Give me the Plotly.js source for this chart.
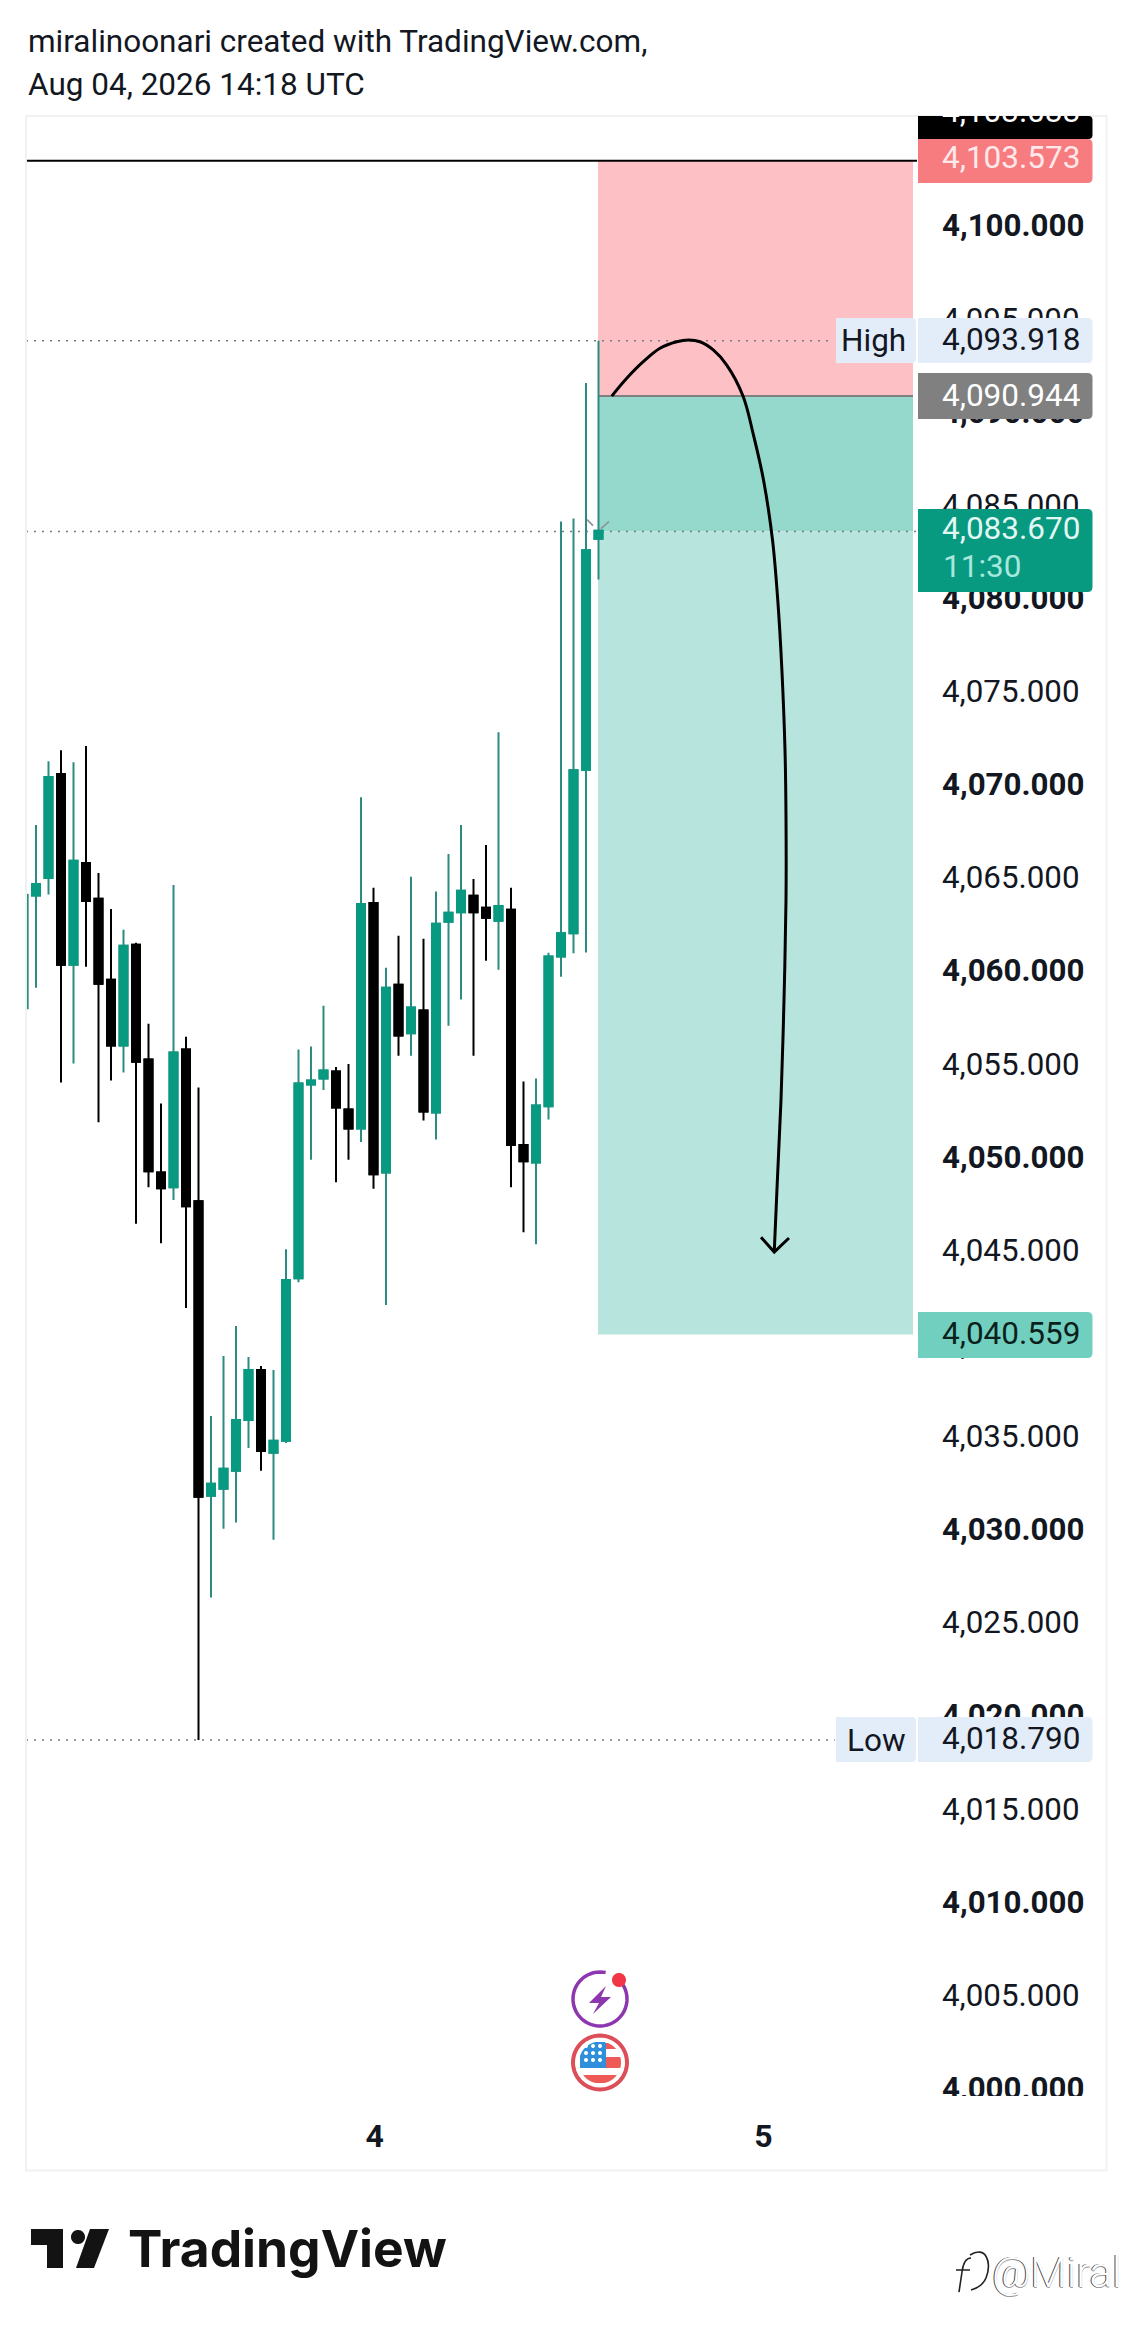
<!DOCTYPE html>
<html>
<head>
<meta charset="utf-8">
<script src="https://cdn.plot.ly/plotly-3.0.1.min.js"></script>
<style>html,body{margin:0;padding:0;background:#fff}#chart{width:1131px;height:2328px}</style>
</head>
<body>
<div id="chart"></div>
<script>
// ---- chart data ----
const barIndex = [0,1,2,3,4,5,6,7,8,9,10,11,12,13,14,15,16,17,18,19,20,21,22,23,24,25,26,27,28,29,30,31,32,33,34,35,36,37,38,39,40,41,42,43,44,45];
const opens = [4064.13,4065.07,4070.65,4060.41,4065.88,4063.95,4059.61,4056.07,4061.48,4055.32,4049.26,4048.46,4055.86,4047.71,4031.90,4032.28,4033.24,4035.97,4038.65,4034.21,4034.85,4043.58,4053.98,4054.30,4054.68,4052.64,4051.62,4063.73,4049.26,4059.34,4056.74,4057.95,4052.48,4062.72,4063.23,4064.11,4063.47,4062.77,4063.36,4050.73,4049.80,4052.82,4060.86,4062.10,4070.88,4083.29];
const highs = [4067.91,4071.34,4071.93,4071.29,4072.15,4065.34,4063.41,4062.29,4061.59,4057.25,4052.96,4064.70,4056.55,4053.82,4036.19,4039.41,4041.01,4039.35,4038.87,4038.65,4045.14,4055.86,4056.02,4058.21,4054.92,4055.08,4069.41,4064.54,4060.25,4061.97,4065.13,4061.81,4064.35,4066.36,4067.91,4065.02,4066.84,4072.90,4064.54,4054.14,4054.30,4061.06,4084.21,4084.37,4091.65,4093.918];
const lows = [4059.18,4064.18,4054.09,4055.11,4060.31,4051.95,4054.20,4054.62,4046.51,4048.46,4045.46,4047.78,4041.98,4018.79,4026.44,4030.13,4030.46,4034.47,4033.24,4029.54,4034.74,4043.37,4049.94,4053.69,4048.73,4049.94,4050.90,4048.38,4042.14,4055.53,4055.53,4052.05,4051.03,4057.14,4058.54,4055.53,4060.63,4060.14,4048.46,4046.05,4045.41,4052.10,4059.77,4061.03,4061.07,4081.10];
const closes = [4064.75,4070.49,4060.41,4065.99,4063.84,4059.39,4056.07,4061.43,4055.21,4049.33,4048.41,4055.70,4047.44,4031.85,4032.54,4033.35,4035.97,4038.65,4034.31,4034.85,4043.48,4054.03,4054.20,4054.73,4052.75,4051.62,4063.68,4049.17,4059.18,4056.61,4058.11,4052.53,4062.61,4063.20,4064.38,4063.23,4062.93,4063.57,4050.73,4049.86,4052.86,4060.86,4062.10,4070.86,4082.67,4083.72];
const edgeWickX = [-0.667,-0.667];
const edgeWickY = [4058.02,4064.22];
const curveX = [46.06,47.26,48.58,49.92,51.26,52.18,53.12,54.18,55.26,56.56,57.36,58.2,58.92,59.34,59.66,59.92,60.0,60.0,59.84,59.6,59.3,59.06];
const curveY = [4090.944,4091.90,4092.79,4093.51,4093.86,4093.95,4093.86,4093.42,4092.61,4090.95,4088.96,4086.44,4083.22,4080.00,4076.40,4071.94,4068.35,4063.89,4058.52,4053.15,4048.70,4044.99];
const arrowX = [58.0,59.06,60.24];
const arrowY = [4045.78,4044.99,4045.74];
const chevronLeftX = [44.08,44.56], chevronLeftY = [4084.31,4083.99];
const chevronRightX = [45.2,45.84], chevronRightY = [4083.83,4084.21];
const stopPrice = 4103.573, entryPrice = 4090.944, lastPrice = 4083.670, targetPrice = 4040.559, highPrice = 4093.918, lowPrice = 4018.790;
const boxStart = 44.96, boxEnd = 70.16;
const priceTicks = [4100,4095,4090,4085,4080,4075,4070,4065,4060,4055,4050,4045,4040,4035,4030,4025,4020,4015,4010,4005,4000];
const priceTickLabels = ['<b>4,100.000</b>','4,095.000','<b>4,090.000</b>','4,085.000','<b>4,080.000</b>','4,075.000','<b>4,070.000</b>','4,065.000','<b>4,060.000</b>','4,055.000','<b>4,050.000</b>','4,045.000','<b>4,040.000</b>','4,035.000','<b>4,030.000</b>','4,025.000','<b>4,020.000</b>','4,015.000','<b>4,010.000</b>','4,005.000','<b>4,000.000</b>'];
const dayTicks = [27.1,58.2];
const dayLabels = ['<b>4</b>','<b>5</b>'];

// ---- page geometry helpers (furniture only) ----
const W = 1131, H = 2328;
const px = x => x / W, py = y => 1 - y / H;
const P = (x, y) => px(x).toFixed(5) + ',' + py(y).toFixed(5);
function poly(points, close) {
  return 'M' + points.map(p => P(p[0], p[1])).join('L') + (close ? 'Z' : '');
}
function tagPath(x0, y0, x1, y1, r) {
  return 'M' + P(x0, y0) + 'L' + P(x1 - r, y0) + 'Q' + P(x1, y0) + ' ' + P(x1, y0 + r) +
         'L' + P(x1, y1 - r) + 'Q' + P(x1, y1) + ' ' + P(x1 - r, y1) + 'L' + P(x0, y1) + 'Z';
}
function paperShape(path, fill, lineColor, lineWidth) {
  return {type: 'path', xref: 'paper', yref: 'paper', layer: 'above', path: path,
          fillcolor: fill || 'rgba(0,0,0,0)', line: {color: lineColor || 'rgba(0,0,0,0)', width: lineWidth || 0}};
}
function arc(cx, cy, r, a0, a1) {
  const pts = [];
  const n = Math.max(8, Math.ceil(Math.abs(a1 - a0) / 6));
  for (let i = 0; i <= n; i++) {
    const a = (a0 + (a1 - a0) * i / n) * Math.PI / 180;
    pts.push([cx + r * Math.cos(a), cy + r * Math.sin(a)]);
  }
  return pts;
}
function discPart(cx, cy, r, x0, y0, x1, y1) {
  const left = [], right = [];
  for (let y = y0; y <= y1 + 0.001; y += 1) {
    const d = r * r - (y - cy) * (y - cy);
    if (d < 0) continue;
    const h = Math.sqrt(d);
    const a = Math.max(cx - h, x0), b = Math.min(cx + h, x1);
    if (b <= a) continue;
    left.push([a, y]);
    right.push([b, y]);
  }
  return poly(left.concat(right.reverse()), true);
}

const GREEN = '#089981', WICK = '#2C8B80', INK = '#131722', DOT = '#787B86';
const xLeft = -0.8, xRight = 70.48;
const TAGR = 1092.5, FLAGY = 2062.5;

const shapes = [
  // risk / reward boxes
  {type:'rect', xref:'x', yref:'y', layer:'below', x0:boxStart, x1:boxEnd, y0:entryPrice, y1:stopPrice, fillcolor:'#FDC0C4', line:{width:0}},
  {type:'rect', xref:'x', yref:'y', layer:'below', x0:boxStart, x1:boxEnd, y0:lastPrice, y1:entryPrice, fillcolor:'#94D9CC', line:{width:0}},
  {type:'rect', xref:'x', yref:'y', layer:'below', x0:boxStart, x1:boxEnd, y0:targetPrice, y1:lastPrice, fillcolor:'#B8E4DE', line:{width:0}},
  {type:'line', xref:'x', yref:'y', layer:'below', x0:boxStart, x1:boxEnd, y0:entryPrice, y1:entryPrice, line:{color:'#808080', width:2}},
  {type:'line', xref:'x', yref:'y', layer:'below', x0:xLeft, x1:xRight, y0:stopPrice, y1:stopPrice, line:{color:'#000000', width:2}},
  {type:'line', xref:'x', yref:'y', layer:'below', x0:xLeft, x1:63.68, y0:highPrice, y1:highPrice, line:{color:DOT, width:1.6, dash:'2px,6px'}},
  {type:'line', xref:'x', yref:'y', layer:'below', x0:xLeft, x1:63.9, y0:lowPrice, y1:lowPrice, line:{color:DOT, width:1.6, dash:'2px,6px'}},
  {type:'line', xref:'x', yref:'y', layer:'below', x0:xLeft, x1:xRight, y0:lastPrice, y1:lastPrice, line:{color:DOT, width:1.6, dash:'2px,6px'}},
  // panel frame
  paperShape(poly([[26,116],[1106.5,116],[1106.5,2170.5],[26,2170.5]], true), null, '#F0F1F3', 2),
  // price tags
  paperShape(tagPath(918,116,TAGR,139,4), '#000000'),
  paperShape(tagPath(918,139,TAGR,183,5), '#F77C80'),
  paperShape(tagPath(836,318,916,363,4), '#E3EDFA'),
  paperShape(tagPath(918,318,TAGR,363,5), '#E3EDFA'),
  paperShape(tagPath(918,373,TAGR,419,5), '#808080'),
  paperShape(tagPath(918,509,TAGR,592,5), GREEN),
  paperShape(tagPath(918,1312,TAGR,1358,5), '#71CFBF'),
  paperShape(tagPath(836,1717,916,1762,4), '#E3EDFA'),
  paperShape(tagPath(918,1717,TAGR,1762,5), '#E3EDFA'),
  // clip the lowest price label
  paperShape(poly([[930,2096],[1100,2096],[1100,2118],[930,2118]], true), '#FFFFFF'),
  // event icons
  paperShape(poly(arc(600,1999,27,-38,282)), null, '#8E35B0', 3.5),
  paperShape(poly(arc(619,1980,7,0,360), true), '#F23645'),
  paperShape(poly([[606,1986],[589,2003],[599,2003],[593,2014],[611,1997],[601,1997]], true), '#8E35B0'),
  paperShape(poly(arc(600,FLAGY,27,0,360), true), '#FFFFFF', '#DD4F58', 4),
  paperShape(discPart(600,FLAGY,21,606,FLAGY-21.5,622,FLAGY-13.5), '#EE5A55'),
  paperShape(discPart(600,FLAGY,21,606,FLAGY-5.5,622,FLAGY+5.5), '#EE5A55'),
  paperShape(discPart(600,FLAGY,21,580,FLAGY+12.5,622,FLAGY+21.5), '#EE5A55'),
  paperShape(discPart(600,FLAGY,21,580,FLAGY-21.5,606,FLAGY+5.5), '#2F8FDB'),
  // TradingView logo mark
  paperShape(poly([[31,2229],[63,2229],[63,2268],[47,2268],[47,2245],[31,2245]], true), '#131313'),
  paperShape(poly(arc(78,2237,7,0,360), true), '#131313'),
  paperShape(poly([[90,2229],[109,2229],[94,2268],[76,2268]], true), '#131313'),
  // watermark glyph
  paperShape('M' + P(970,2255) + 'C' + P(986,2245) + ' ' + P(992,2262) + ' ' + P(986,2278) + 'C' + P(983,2285) + ' ' + P(978,2288) + ' ' + P(971,2290), null, '#222222', 1.6),
  paperShape('M' + P(971,2258) + 'C' + P(965,2258) + ' ' + P(963,2264) + ' ' + P(962,2272) + 'L' + P(959,2292) + 'M' + P(956,2270) + 'L' + P(970,2270), null, '#222222', 1.6)
];
// flag stars
[FLAGY-16.5,FLAGY-9.5,FLAGY-2.5].forEach(y => [586,593,600].forEach(x => {
  shapes.push(paperShape(poly(arc(x,y,2,0,360), true), '#FFFFFF'));
}));

function label(text, x, y, color, anchor, extra) {
  return Object.assign({text: text, xref:'paper', yref:'paper', x: px(x), y: py(y), xanchor: anchor || 'right', yanchor:'middle',
    showarrow:false, borderpad:0, font:{family:'Roboto', size:31.5, color:color}}, extra || {});
}
const annotations = [
  label('4,103.033', 1081, 111, '#FFFFFF'),
  // white strip that cuts the top of the black tag's label at the panel edge
  {text:'&nbsp;', xref:'paper', yref:'paper', x:px(918), y:py(114.5), xanchor:'left', yanchor:'bottom', width:176, height:16, bgcolor:'#FFFFFF', showarrow:false, borderpad:0, font:{size:10}},
  label('4,103.573', 1081, 158, '#FFE9EA'),
  label('High', 873, 340, INK, 'center'),
  label('4,093.918', 1081, 339.5, INK),
  label('4,090.944', 1081, 395, '#FFFFFF'),
  label('4,083.670', 1081, 529, '#E3F7F3'),
  label('11:30', 942, 566, '#A6E8DC', 'left'),
  label('4,040.559', 1081, 1333, '#0B1F1C'),
  label('Low', 876, 1740, INK, 'center'),
  label('4,018.790', 1081, 1738, INK),
  label('miralinoonari created with TradingView.com,', 27, 41, INK, 'left', {font:{family:'Roboto', size:31.5, color:INK}}),
  label('Aug 04, 2026 14:18 UTC', 27, 85, INK, 'left', {font:{family:'Roboto', size:31.5, color:INK}}),
  label('TradingView', 127, 2248, '#131313', 'left', {font:{family:'Inter', size:51.5, weight:700, color:'#131313'}}),
  label('@Miral', 991, 2272, '#FFFFFF', 'left', {font:{family:'Roboto', size:42, weight:300, color:'#FFFFFF', shadow:'-1px 0 0 #444444, 0 1px 0 #999999'}})
];

const bodyHighs = opens.map((o, i) => Math.max(o, closes[i]));
const bodyLows = opens.map((o, i) => Math.min(o, closes[i]));
const traces = [
  {type:'candlestick', x:barIndex, open:opens, high:highs, low:lows, close:closes, whiskerwidth:0, hoverinfo:'skip',
   increasing:{line:{color:WICK, width:2}, fillcolor:GREEN}, decreasing:{line:{color:'#000000', width:2}, fillcolor:'#000000'}},
  {type:'candlestick', x:barIndex, open:opens, high:bodyHighs, low:bodyLows, close:closes, whiskerwidth:0, hoverinfo:'skip',
   increasing:{line:{color:GREEN, width:2}, fillcolor:GREEN}, decreasing:{line:{color:'#000000', width:2}, fillcolor:'#000000'}},
  {type:'scatter', mode:'lines', x:edgeWickX, y:edgeWickY, line:{color:WICK, width:2}, hoverinfo:'skip'},
  {type:'scatter', mode:'lines', x:chevronLeftX, y:chevronLeftY, line:{color:'#8A8F98', width:1.6}, hoverinfo:'skip'},
  {type:'scatter', mode:'lines', x:chevronRightX, y:chevronRightY, line:{color:'#8A8F98', width:1.6}, hoverinfo:'skip'},
  {type:'scatter', mode:'lines', x:curveX, y:curveY, line:{color:'#000000', width:3, shape:'spline', smoothing:1}, hoverinfo:'skip'},
  {type:'scatter', mode:'lines', x:arrowX, y:arrowY, line:{color:'#000000', width:3}, hoverinfo:'skip'}
];

const layout = {
  width: W, height: H, autosize:false,
  margin:{l:0,r:0,t:0,b:0,pad:0},
  paper_bgcolor:'#FFFFFF', plot_bgcolor:'#FFFFFF',
  showlegend:false, dragmode:false, hovermode:false, boxgap:0.36, boxgroupgap:0, boxmode:'overlay',
  xaxis:{domain:[px(26),px(917)], range:[xLeft,xRight], type:'linear', rangeslider:{visible:false}, showgrid:false, zeroline:false, showline:false, ticks:'',
         tickmode:'array', tickvals:dayTicks, ticktext:dayLabels, tickfont:{family:'Roboto', size:32, color:INK}, ticklabelstandoff:13, fixedrange:true, automargin:false},
  yaxis:{domain:[(H-2101)/H,(H-116)/H], range:[3999.405,4105.982], side:'right', showgrid:false, zeroline:false, showline:false, ticks:'',
         tickmode:'array', tickvals:priceTicks, ticktext:priceTickLabels, tickfont:{family:'Roboto', size:31.3, color:INK}, ticklabelstandoff:24, ticklabelshift:-2, fixedrange:true, automargin:false},
  shapes: shapes, annotations: annotations
};
Plotly.newPlot('chart', traces, layout, {staticPlot:true, displayModeBar:false, responsive:false});
</script>
</body>
</html>
